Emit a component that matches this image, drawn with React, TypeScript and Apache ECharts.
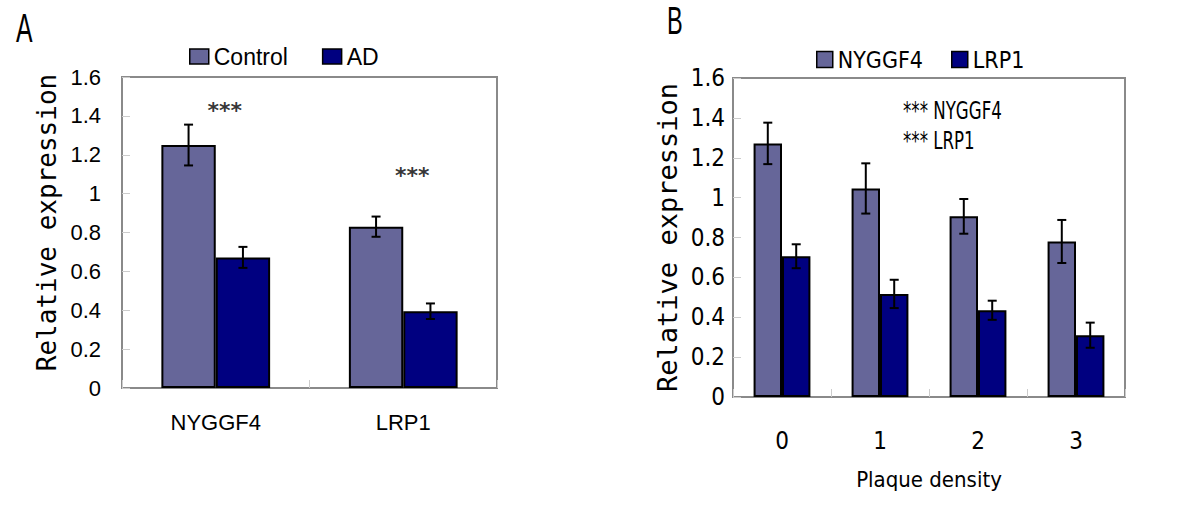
import React, { useEffect, useRef } from 'react';
import * as echarts from 'echarts';

// Panel A
const genesA = ['NYGGF4', 'LRP1'];
const controlA = [1.25, 0.83];
const controlErrA = [0.105, 0.052];
const adA = [0.672, 0.395];
const adErrA = [0.054, 0.04];
const starsA = [1.43, 1.095];

// Panel B
const densityB = ['0', '1', '2', '3'];
const nyggf4B = [1.272, 1.046, 0.906, 0.78];
const nyggf4ErrB = [0.104, 0.126, 0.087, 0.108];
const lrp1B = [0.706, 0.517, 0.435, 0.31];
const lrp1ErrB = [0.06, 0.071, 0.048, 0.063];

const FONT_A = "'Liberation Sans', Arial, sans-serif";
const FONT_B = "'DejaVu Sans Condensed', 'Liberation Sans Narrow', sans-serif";
const FONT_MONO = "'DejaVu Sans Mono', monospace";

const C1 = '#666699';
const C2 = '#000080';
const GAP = 0.42;

function errRender(side: number) {
  return (params: any, api: any) => {
    const idx = api.value(0);
    const v = api.value(1);
    const e = api.value(2);
    const band = api.size([1, 0])[0];
    const dx = (side * band * (1 - GAP)) / 4;
    const top = api.coord([idx, v + e]);
    const bot = api.coord([idx, v - e]);
    const x = top[0] + dx;
    const cap = 4.5;
    const st = { stroke: '#000', lineWidth: 2 };
    return {
      type: 'group',
      children: [
        { type: 'line', shape: { x1: x, y1: top[1], x2: x, y2: bot[1] }, style: st },
        { type: 'line', shape: { x1: x - cap, y1: top[1], x2: x + cap, y2: top[1] }, style: st },
        { type: 'line', shape: { x1: x - cap, y1: bot[1], x2: x + cap, y2: bot[1] }, style: st },
      ],
    };
  };
}

export default function App() {
  const ref = useRef<HTMLDivElement>(null);
  useEffect(() => {
    if (!ref.current) return;
    const chart = echarts.init(ref.current, null, { renderer: 'svg' });
    const barStyle = (c: string) => ({ color: c, borderColor: '#000', borderWidth: 2 });
    const yAxisBase = (font: string, size: number, margin: number, nameGap: number, nameSize: number, namePad: number[]) => ({
      type: 'value',
      min: 0,
      max: 1.6,
      interval: 0.2,
      name: 'Relative expression',
      nameLocation: 'middle',
      nameRotate: 90,
      nameGap,
      nameTextStyle: { fontFamily: FONT_MONO, fontSize: nameSize, color: '#000', padding: namePad },
      axisLine: { show: false },
      axisTick: { show: true, inside: true, length: 8, lineStyle: { color: '#cccccc', width: 1 } },
      splitLine: { show: false },
      axisLabel: { fontFamily: font, fontSize: size, color: '#000', margin },
    });
    const option: any = {
      animation: false,
      backgroundColor: '#fff',
      grid: [
        { left: 122, top: 77, width: 375, height: 311, show: true, borderColor: '#8a8a8a', borderWidth: 2, backgroundColor: '#fff' },
        { left: 733, top: 78, width: 392, height: 319, show: true, borderColor: '#8a8a8a', borderWidth: 2, backgroundColor: '#fff' },
      ],
      legend: [
        {
          data: ['Control', 'AD'],
          left: 189,
          top: 45,
          padding: 0,
          itemWidth: 19,
          itemHeight: 15,
          itemGap: 34,
          icon: 'rect',
          itemStyle: { borderColor: '#000', borderWidth: 1.5 },
          textStyle: { fontFamily: FONT_A, fontSize: 23, color: '#000' },
        },
        {
          data: ['NYGGF4', 'LRP1'],
          left: 816,
          top: 48,
          padding: 0,
          itemWidth: 16,
          itemHeight: 16,
          itemGap: 28,
          icon: 'rect',
          itemStyle: { borderColor: '#000', borderWidth: 1.5 },
          textStyle: { fontFamily: FONT_B, fontSize: 23, color: '#000' },
        },
      ],
      xAxis: [
        {
          type: 'category',
          gridIndex: 0,
          data: genesA,
          axisLine: { show: false },
          axisTick: { show: true, inside: true, length: 8, lineStyle: { color: '#cccccc' } },
          axisLabel: { fontFamily: FONT_A, fontSize: 22, color: '#000', margin: 23 },
        },
        {
          type: 'category',
          gridIndex: 1,
          data: densityB,
          name: 'Plaque density',
          nameLocation: 'middle',
          nameGap: 71,
          nameTextStyle: { fontFamily: FONT_B, fontSize: 22, color: '#000' },
          axisLine: { show: false },
          axisTick: { show: true, inside: true, length: 8, lineStyle: { color: '#cccccc' } },
          axisLabel: { fontFamily: FONT_B, fontSize: 24, color: '#000', margin: 32 },
        },
      ],
      yAxis: [
        { gridIndex: 0, ...yAxisBase(FONT_A, 22, 21, 62, 26, [0, 0, 0, 20]) },
        { gridIndex: 1, ...yAxisBase(FONT_B, 24, 8, 52, 27, [0, 0, 0, 0]) },
      ],
      graphic: [
        { type: 'text', left: 16, top: 8, scaleX: 0.62, style: { text: 'A', fontFamily: FONT_A, fontSize: 40, fill: '#000' } },
        { type: 'text', left: 667, top: 2, scaleX: 0.62, style: { text: 'B', fontFamily: FONT_A, fontSize: 38, fill: '#000' } },
        {
          type: 'text',
          left: 903,
          top: 95,
          scaleX: 0.74,
          style: { text: '*** NYGGF4\n*** LRP1', fontFamily: FONT_B, fontSize: 25, lineHeight: 30, fill: '#000' },
        },
      ],
      series: [
        {
          name: 'Control', type: 'bar', xAxisIndex: 0, yAxisIndex: 0, data: controlA,
          barGap: '0%', barCategoryGap: GAP * 100 + '%', itemStyle: barStyle(C1),
        },
        {
          name: 'AD', type: 'bar', xAxisIndex: 0, yAxisIndex: 0, data: adA,
          barGap: '0%', barCategoryGap: GAP * 100 + '%', itemStyle: barStyle(C2),
        },
        {
          name: 'errControl', type: 'custom', xAxisIndex: 0, yAxisIndex: 0, z: 5,
          renderItem: errRender(-1), encode: { x: 0, y: 1 },
          data: controlA.map((v, i) => [i, v, controlErrA[i]]),
        },
        {
          name: 'errAD', type: 'custom', xAxisIndex: 0, yAxisIndex: 0, z: 5,
          renderItem: errRender(1), encode: { x: 0, y: 1 },
          data: adA.map((v, i) => [i, v, adErrA[i]]),
        },
        {
          name: 'stars', type: 'scatter', xAxisIndex: 0, yAxisIndex: 0, symbolSize: 0,
          data: starsA.map((v, i) => [i, v]),
          label: { show: true, position: 'inside', offset: [9, 0], formatter: '***', fontFamily: "'DejaVu Sans', sans-serif", fontWeight: 'bold', fontSize: 22, color: '#000' },
        },
        {
          name: 'NYGGF4', type: 'bar', xAxisIndex: 1, yAxisIndex: 1, data: nyggf4B,
          barGap: '0%', barCategoryGap: GAP * 100 + '%', itemStyle: barStyle(C1),
        },
        {
          name: 'LRP1', type: 'bar', xAxisIndex: 1, yAxisIndex: 1, data: lrp1B,
          barGap: '0%', barCategoryGap: GAP * 100 + '%', itemStyle: barStyle(C2),
        },
        {
          name: 'errNYGGF4', type: 'custom', xAxisIndex: 1, yAxisIndex: 1, z: 5,
          renderItem: errRender(-1), encode: { x: 0, y: 1 },
          data: nyggf4B.map((v, i) => [i, v, nyggf4ErrB[i]]),
        },
        {
          name: 'errLRP1', type: 'custom', xAxisIndex: 1, yAxisIndex: 1, z: 5,
          renderItem: errRender(1), encode: { x: 0, y: 1 },
          data: lrp1B.map((v, i) => [i, v, lrp1ErrB[i]]),
        },
      ],
    };
    chart.setOption(option);
    return () => chart.dispose();
  }, []);
  return <div ref={ref} style={{ position: 'absolute', left: 0, top: 0, width: 1200, height: 514 }} />;
}
